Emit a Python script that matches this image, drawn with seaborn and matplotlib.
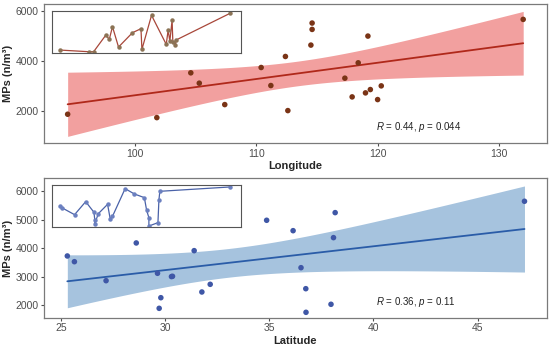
import matplotlib
matplotlib.use('Agg')
import matplotlib.pyplot as plt
import seaborn as sns
import pandas as pd
import numpy as np

# main panels: MPs vs longitude / latitude (one point in each sits under the inset)
longitude = [94.45, 101.8, 104.6, 105.3, 105.5, 107.4, 110.4, 111.2, 112.4, 112.6, 114.5,
             114.6, 114.6, 117.3, 117.9, 118.4, 119.0, 119.2, 119.4, 120.0, 120.3, 132.0]
mps_lon = [1868, 1733, 3520, 3107, 4500, 2253, 3733, 3013, 4173, 2013, 4627,
           5253, 5507, 3307, 2560, 3920, 2720, 4987, 2853, 2453, 3000, 5653]

latitude = [25.30, 25.64, 27.16, 28.61, 29.63, 29.71, 29.79, 30.30, 30.35, 31.39, 31.76,
            32.16, 33.30, 34.87, 36.14, 36.52, 36.75, 36.76, 37.96, 38.08, 38.16, 47.25]
mps_lat = [3725, 3524, 2856, 4183, 3116, 1883, 2257, 3000, 3010, 3912, 2458,
           2728, 5507, 4981, 4615, 3313, 2574, 1743, 2025, 4370, 5250, 5650]

# inset traces (relative units, 0-100)
inset_top_x = [3.9, 19.3, 21.9, 28.4, 30.2, 31.9, 35.1, 42.5, 47.0, 47.5, 52.6,
               60.4, 61.4, 62.3, 63.5, 63.9, 65.3, 65.6, 94.2]
inset_top_y = [6.4, 2.4, 2.4, 42.4, 32.0, 62.4, 13.6, 48.0, 57.6, 8.0, 89.6,
               20.0, 54.4, 28.0, 77.6, 25.6, 18.4, 30.4, 94.4]
inset_bot_x = [3.9, 5.3, 11.8, 17.7, 22.1, 22.5, 22.5, 24.4, 29.3, 30.7, 31.9,
               38.6, 43.5, 48.8, 50.0, 51.2, 51.2, 56.0, 56.5, 57.0, 94.2]
inset_bot_y = [50.4, 45.6, 29.6, 60.8, 35.2, 17.6, 8.0, 32.0, 54.4, 19.2, 25.6,
               92.0, 79.2, 70.4, 40.0, 22.4, 2.4, 10.4, 64.0, 85.6, 96.0]

T_975 = 2.086  # t quantile, df = 20

sns.set_theme(style='white')
plt.rcParams['font.family'] = ['Liberation Sans', 'DejaVu Sans']
plt.rcParams['mathtext.fontset'] = 'custom'
plt.rcParams['mathtext.it'] = 'Liberation Sans:italic'
plt.rcParams['mathtext.rm'] = 'Liberation Sans'

df_lon = pd.DataFrame({'Longitude': longitude, 'MPs': mps_lon})
df_lat = pd.DataFrame({'Latitude': latitude, 'MPs': mps_lat})

fig = plt.figure(figsize=(5.5, 3.45), dpi=100)
ax1 = fig.add_axes([0.080, 0.5855, 0.9145, 0.4029])
ax2 = fig.add_axes([0.080, 0.0791, 0.9145, 0.4041])


def panel(ax, df, xcol, pt_color, line_color, band_color, xlim, ylim, yticks, xticks, label):
    # confidence band of the linear fit (lm-style, not bootstrap)
    x = df[xcol].to_numpy(float)
    y = df['MPs'].to_numpy(float)
    b, a = np.polyfit(x, y, 1)
    n = len(x)
    s = np.sqrt(np.sum((y - (a + b * x)) ** 2) / (n - 2))
    xs = np.linspace(x.min(), x.max(), 80)
    se = s * np.sqrt(1 / n + (xs - x.mean()) ** 2 / np.sum((x - x.mean()) ** 2))
    fit = a + b * xs
    ax.fill_between(xs, fit - T_975 * se, fit + T_975 * se, color=band_color, lw=0, zorder=1)

    sns.regplot(data=df, x=xcol, y='MPs', ax=ax, ci=None,
                scatter_kws=dict(s=16, color=pt_color, edgecolor='none', alpha=1, zorder=3),
                line_kws=dict(color=line_color, lw=1.3, zorder=2))
    ax.set_xlim(*xlim)
    ax.set_ylim(*ylim)
    ax.set_xticks(xticks)
    ax.set_yticks(yticks)
    ax.set_xlabel(xcol, fontsize=8, fontweight='bold', labelpad=2)
    ax.set_ylabel('MPs (n/m³)', fontsize=8, fontweight='bold', labelpad=2)
    ax.tick_params(axis='both', labelsize=7.5, colors='#4d4d4d', length=2.5, width=0.8,
                   direction='out', bottom=True, left=True, pad=1.5)
    for sp in ax.spines.values():
        sp.set_color('#7a7a7a')
        sp.set_linewidth(0.9)
    ax.text(0.66, 0.09, label, transform=ax.transAxes, fontsize=7, color='#222222')


panel(ax1, df_lon, 'Longitude', '#7a3416', '#b0281a', '#f2a09f',
      (92.5, 133.96), (720, 6267), [2000, 4000, 6000], [100, 110, 120, 130],
      r'$\mathit{R}$ = 0.44, $\mathit{p}$ = 0.044')
panel(ax2, df_lat, 'Latitude', '#3f57a6', '#2a5ca8', '#a6c3de',
      (24.18, 48.33), (1553, 6458), [2000, 3000, 4000, 5000, 6000], [25, 30, 35, 40, 45],
      r'$\mathit{R}$ = 0.36, $\mathit{p}$ = 0.11')


def inset(rect, xs, ys, line_color, mk_color):
    ax = fig.add_axes(rect)
    ax.set_facecolor('white')
    ax.plot(xs, ys, color=line_color, lw=0.9, marker='o', ms=2.2,
            mfc=mk_color, mec=mk_color)
    ax.set_xlim(0, 100)
    ax.set_ylim(0, 100)
    ax.set_xticks([])
    ax.set_yticks([])
    for sp in ax.spines.values():
        sp.set_color('#555555')
        sp.set_linewidth(0.8)
    return ax


inset([0.0951, 0.8472, 0.343, 0.1209], inset_top_x, inset_top_y, '#a8473a', '#8b7355')
inset([0.0951, 0.3420, 0.343, 0.1209], inset_bot_x, inset_bot_y, '#4a62a8', '#6b80c0')

fig.savefig('out.png', dpi=100)
